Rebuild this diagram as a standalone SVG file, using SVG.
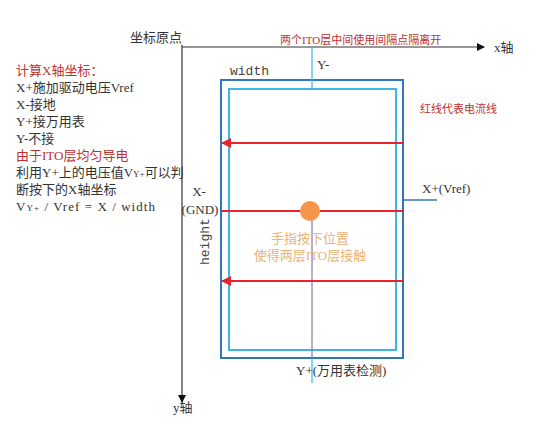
<svg xmlns="http://www.w3.org/2000/svg" width="559" height="433" viewBox="0 0 559 433">
<style>
.t{font-family:"Liberation Serif","Noto Sans CJK SC",serif;font-size:13px;fill:#333}
.r{fill:#c0302f}
.s{font-size:11px}
.m{font-family:"Liberation Mono","Noto Sans CJK SC",monospace;font-size:13px;fill:#444}
.o{font-family:"Liberation Serif","Noto Sans CJK SC",sans-serif;font-size:13px;fill:#e8b478}
.ax{stroke:#333;stroke-width:1.2;fill:none}
.cur{stroke:#e8262a;stroke-width:2;fill:none}
</style>
<defs>
<marker id="ah" markerWidth="8" markerHeight="8" refX="7" refY="4" orient="auto" markerUnits="userSpaceOnUse"><path d="M0,0L8,4L0,8z" fill="#111"/></marker>
<marker id="rh" markerWidth="10" markerHeight="10" refX="9" refY="5" orient="auto" markerUnits="userSpaceOnUse"><path d="M0,0L10,5L0,10z" fill="#e8262a"/></marker>
</defs>
<rect width="559" height="433" fill="#fff"/>
<g id="axes">
<line class="ax" x1="182" y1="47" x2="484" y2="47" marker-end="url(#ah)"/>
<line class="ax" x1="182" y1="45" x2="182" y2="402" marker-end="url(#ah)"/>
<text class="t" x="130" y="42">坐标原点</text>
<text class="t" x="494" y="52">x轴</text>
<text class="t" x="173" y="412">y轴</text>
</g>
<g id="panel">
<rect x="221" y="80" width="182" height="278" fill="none" stroke="#2f78be" stroke-width="2"/>
<rect x="229" y="89" width="167" height="261" fill="none" stroke="#3fb4e8" stroke-width="2"/>
<text class="m" x="230" y="75">width</text>
<text class="m" x="0" y="0" transform="translate(209,265) rotate(-90)">height</text>
</g>
<g id="connectors">
<line x1="312" y1="47" x2="312" y2="89" stroke="#3fb4e8" stroke-width="1.2"/>
<line x1="312" y1="211" x2="312" y2="358" stroke="#7a5a9a" stroke-width="1"/>
<line x1="312" y1="358" x2="312" y2="383" stroke="#3fb4e8" stroke-width="1.2"/>
<line x1="403" y1="200" x2="437" y2="200" stroke="#2f78be" stroke-width="1.5"/>
<line class="cur" x1="403" y1="143" x2="222" y2="143" marker-end="url(#rh)"/>
<line class="cur" x1="221" y1="211" x2="403" y2="211"/>
<line class="cur" x1="403" y1="281" x2="222" y2="281" marker-end="url(#rh)"/>
</g>
<g id="touch">
<circle cx="310" cy="211" r="10" fill="#f5964a"/>
<text class="o" x="310" y="243" text-anchor="middle">手指按下位置</text>
<text class="o" x="310" y="260" text-anchor="middle">使得两层ITO层接触</text>
</g>
<g id="labels">
<text class="t r s" x="280" y="44">两个ITO层中间使用间隔点隔离开</text>
<text class="t" x="317" y="69">Y-</text>
<text class="t r s" x="420" y="113">红线代表电流线</text>
<text class="t" x="422" y="193">X+(Vref)</text>
<text class="t" x="199" y="196" text-anchor="middle">X-</text>
<text class="t" x="200" y="214" text-anchor="middle">(GND)</text>
<text class="t" x="296" y="375">Y+(万用表检测)</text>
</g>
<g id="notes">
<text class="t r" x="16" y="75">计算X轴坐标：</text>
<text class="t" x="16" y="92">X+施加驱动电压Vref</text>
<text class="t" x="16" y="109">X-接地</text>
<text class="t" x="16" y="126">Y+接万用表</text>
<text class="t" x="16" y="143">Y-不接</text>
<text class="t r" x="16" y="160">由于ITO层均匀导电</text>
<text class="t" x="16" y="177">利用Y+上的电压值V<tspan font-size="9">Y+</tspan>可以判</text>
<text class="t" x="16" y="194">断按下的X轴坐标</text>
<text class="t" x="16" y="211" fill="#666" textLength="139" lengthAdjust="spacing">V<tspan font-size="9">Y+</tspan> / Vref = X / width</text>
</g>
</svg>
